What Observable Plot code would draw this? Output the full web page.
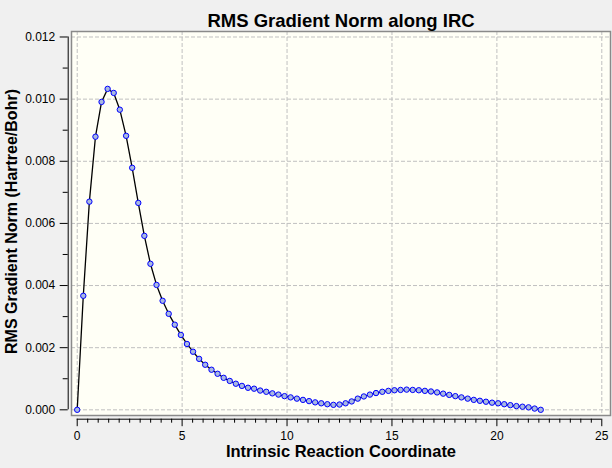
<!DOCTYPE html>
<html>
<head>
<meta charset="utf-8">
<script src="https://cdn.jsdelivr.net/npm/d3@7"></script>
<script src="https://cdn.jsdelivr.net/npm/@observablehq/plot@0.6"></script>
<style>
  html, body { margin: 0; padding: 0; background: #f0f0f0; }
  #chart svg { display: block; background: #f0f0f0; }
</style>
</head>
<body>
<div id="chart"></div>
<script>
const title = "RMS Gradient Norm along IRC";
const xLabel = "Intrinsic Reaction Coordinate";
const yLabel = "RMS Gradient Norm (Hartree/Bohr)";

const irc = [0, 0.29, 0.58, 0.87, 1.16, 1.45, 1.74, 2.03, 2.33, 2.62, 2.91, 3.20, 3.49, 3.78, 4.07, 4.36, 4.65, 4.94, 5.23, 5.52,
  5.81, 6.10, 6.40, 6.69, 6.98, 7.27, 7.56, 7.85, 8.14, 8.43, 8.72, 9.01, 9.30, 9.59, 9.88, 10.17, 10.47, 10.76, 11.05, 11.34,
  11.63, 11.92, 12.21, 12.50, 12.79, 13.08, 13.37, 13.66, 13.95, 14.24, 14.54, 14.83, 15.12, 15.41, 15.70, 15.99, 16.28, 16.57,
  16.86, 17.15, 17.44, 17.73, 18.02, 18.31, 18.61, 18.90, 19.19, 19.48, 19.77, 20.06, 20.35, 20.64, 20.93, 21.22, 21.51, 21.80, 22.09];

const gradNorm = [0, 0.00367, 0.00670, 0.00879, 0.00991, 0.01033, 0.01020, 0.00966, 0.00882, 0.00779, 0.00666, 0.00560, 0.00470,
  0.00402, 0.00351, 0.00309, 0.00274, 0.00241, 0.00212, 0.00187, 0.00164, 0.00145, 0.00129, 0.00116, 0.00103, 0.00093, 0.00084,
  0.00077, 0.00071, 0.00068, 0.00062, 0.00058, 0.00053, 0.00049, 0.00044, 0.00040, 0.00036, 0.00032, 0.00028, 0.00024, 0.00021,
  0.00018, 0.00016, 0.00017, 0.00021, 0.00027, 0.00036, 0.00043, 0.00049, 0.00054, 0.00058, 0.00061, 0.00063, 0.00064, 0.00065,
  0.00064, 0.00063, 0.00061, 0.00059, 0.00056, 0.00052, 0.00048, 0.00044, 0.00040, 0.00036, 0.00032, 0.00029, 0.00026, 0.00023,
  0.00021, 0.00018, 0.00015, 0.00012, 0.00010, 0.00008, 0.00004, 0.00000];

const xTicks = [0, 5, 10, 15, 20, 25];
const xMinorTicks = [0.5, 1, 1.5, 2, 2.5, 3, 3.5, 4, 4.5, 5.5, 6, 6.5, 7, 7.5, 8, 8.5, 9, 9.5, 10.5, 11, 11.5, 12, 12.5, 13, 13.5, 14, 14.5,
  15.5, 16, 16.5, 17, 17.5, 18, 18.5, 19, 19.5, 20.5, 21, 21.5, 22, 22.5, 23, 23.5, 24, 24.5];
const yTicks = [0, 0.002, 0.004, 0.006, 0.008, 0.010, 0.012];
const yMinorTicks = [0.001, 0.003, 0.005, 0.007, 0.009, 0.011];

const data = irc.map((x, i) => ({x, y: gradNorm[i]}));

const xDomain = [-0.272, 25.415];
const yDomain = [-0.000183, 0.012177];
const font = "'Liberation Sans', Arial, sans-serif";
const grid = {stroke: "#c0c0c0", strokeWidth: 1, strokeDasharray: "4,2"};

const chart = Plot.plot({
  width: 612,
  height: 468,
  marginLeft: 71,
  marginRight: 2,
  marginTop: 31,
  marginBottom: 53,
  style: {fontFamily: font, background: "#f0f0f0", color: "black"},
  x: {domain: xDomain, axis: null},
  y: {domain: yDomain, axis: null},
  marks: [
    Plot.frame({fill: "#fffff6", stroke: "none"}),
    Plot.ruleX(xTicks, grid),
    Plot.ruleY(yTicks, grid),
    Plot.frame({stroke: "#8a8a8a", strokeWidth: 1.5}),
    Plot.line(data, {x: "x", y: "y", stroke: "black", strokeWidth: 1.3}),
    Plot.dot(data, {x: "x", y: "y", r: 2.7, fill: "#a8b8e0", stroke: "#0000ff", strokeWidth: 1}),
    // y axis
    Plot.ruleX([xDomain[0]], {y1: 0, y2: 0.012, dx: -3.3, stroke: "black", strokeWidth: 1}),
    Plot.axisY({ticks: yTicks, anchor: "left", dx: -3.3, tickSize: 8, tickPadding: 5, fontSize: 12,
      tickFormat: d3.format(".3f"), label: null}),
    Plot.axisY({ticks: yMinorTicks, anchor: "left", dx: -3.3, tickSize: 5, text: null, label: null}),
    // x axis
    Plot.ruleY([yDomain[0]], {x1: 0, x2: 25, dy: 3.7, stroke: "black", strokeWidth: 1}),
    Plot.axisX({ticks: xTicks, anchor: "bottom", dy: 3.7, tickSize: 7.5, tickPadding: 4.5, fontSize: 12,
      tickFormat: d3.format("d"), label: null}),
    Plot.axisX({ticks: xMinorTicks, anchor: "bottom", dy: 3.7, tickSize: 4, text: null, label: null}),
    // labels
    Plot.text([title], {frameAnchor: "top", dy: -18, fontSize: 18.5, fontWeight: "bold"}),
    Plot.text([xLabel], {frameAnchor: "bottom", dy: 41, fontSize: 16.5, fontWeight: "bold"}),
    Plot.text([yLabel], {frameAnchor: "left", textAnchor: "middle", dx: -60, dy: -2, rotate: -90,
      fontSize: 16, fontWeight: "bold"})
  ]
});
document.getElementById("chart").appendChild(chart);
</script>
</body>
</html>
